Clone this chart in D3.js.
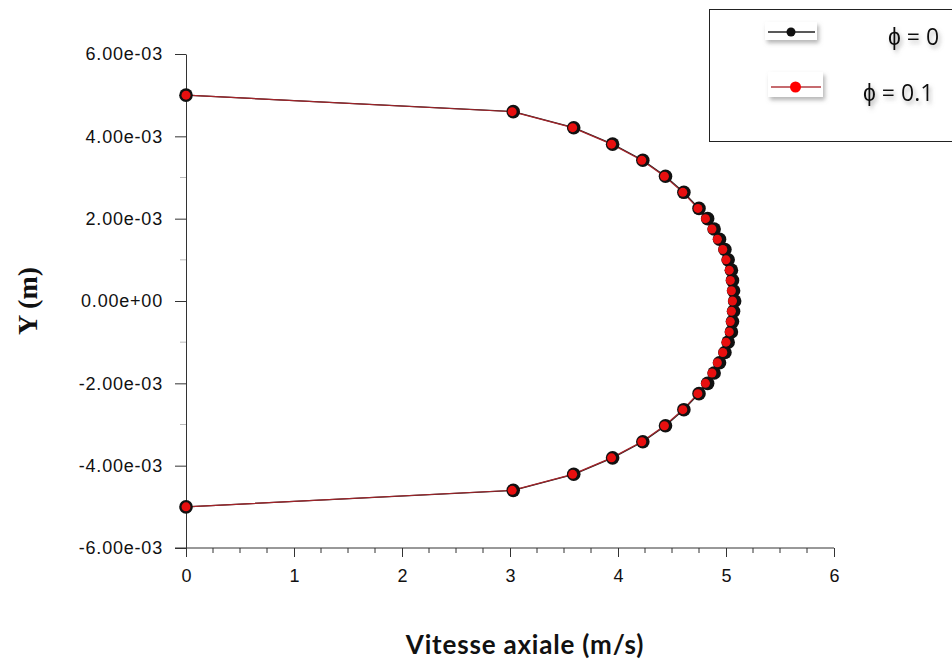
<!DOCTYPE html>
<html>
<head>
  <meta charset="utf-8" />
  <title>Profil de vitesse axiale</title>
  <style type="text/css">
  body {
    margin: 0;
    background: #fff;
  }
  svg text { fill: #111; }
  </style>
</head>
<body>
  <div id="graph"></div>

  <script src="https://cdn.jsdelivr.net/npm/d3@7"></script>
  <script>
// radial positions (in units of 1e-3 m)
var yPos = [5, 4.6, 4.21, 3.81, 3.42, 3.03, 2.64, 2.25, 2.0, 1.75, 1.5, 1.25, 1.0, 0.75, 0.5, 0.25, 0,
            -0.25, -0.5, -0.75, -1.0, -1.25, -1.5, -1.75, -2.0, -2.25, -2.64, -3.03, -3.42, -3.81, -4.21, -4.6, -5];

// axial velocity (m/s), phi = 0
var uPhi0 = [0, 3.03, 3.59, 3.95, 4.23, 4.44, 4.61, 4.75, 4.83, 4.89, 4.94, 4.99, 5.02, 5.05, 5.06, 5.07, 5.08,
             5.07, 5.06, 5.05, 5.02, 4.99, 4.94, 4.89, 4.83, 4.75, 4.61, 4.44, 4.23, 3.95, 3.59, 3.03, 0];

// axial velocity (m/s), phi = 0.1
var uPhi01 = [0, 3.02, 3.58, 3.94, 4.22, 4.43, 4.60, 4.74, 4.81, 4.87, 4.92, 4.97, 5.00, 5.03, 5.04, 5.05, 5.06,
              5.05, 5.04, 5.03, 5.00, 4.97, 4.92, 4.87, 4.81, 4.74, 4.60, 4.43, 4.22, 3.94, 3.58, 3.02, 0];

var xTicks = [0, 1, 2, 3, 4, 5, 6];
var yTicks = [-6e-3, -4e-3, -2e-3, 0, 2e-3, 4e-3, 6e-3];
var legendLabels = ["\u03D5 = 0", "\u03D5 = 0.1"];

var W = 952, H = 662;
var margin = {top: 54, left: 186, right: 118, bottom: 114};

var x = d3.scaleLinear().domain([0, 6]).range([margin.left, W - margin.right]);
var y = d3.scaleLinear().domain([-6e-3, 6e-3]).range([H - margin.bottom, margin.top]);

var svg = d3.select("#graph").append("svg")
    .attr("width", W)
    .attr("height", H);

// soft shadow like the pasted legend pieces
var defs = svg.append("defs");
var f = defs.append("filter").attr("id", "shadow")
    .attr("x", "-30%").attr("y", "-30%").attr("width", "160%").attr("height", "170%");
f.append("feDropShadow")
    .attr("dx", 2).attr("dy", 3).attr("stdDeviation", 2)
    .attr("flood-color", "#777").attr("flood-opacity", 0.55);

// minor ticks
var xMinor = d3.range(0, 6.01, 0.25).filter(function(d) { return d % 1 !== 0; });
var yMinor = [-5e-3, -3e-3, -1e-3, 1e-3, 3e-3, 5e-3];

svg.append("g")
    .attr("transform", "translate(0," + y(-6e-3) + ")")
    .selectAll("line").data(xMinor).enter().append("line")
    .attr("x1", function(d) { return x(d); })
    .attr("x2", function(d) { return x(d); })
    .attr("y1", 0).attr("y2", 5)
    .attr("stroke", "#333");

svg.append("g")
    .selectAll("line").data(yMinor).enter().append("line")
    .attr("x1", x(0) - 6).attr("x2", x(0))
    .attr("y1", function(d) { return y(d); })
    .attr("y2", function(d) { return y(d); })
    .attr("stroke", "#bbb");

// x axis
var xAxis = svg.append("g")
    .attr("transform", "translate(0," + y(-6e-3) + ")")
    .call(d3.axisBottom(x).tickValues(xTicks).tickSize(9).tickPadding(12).tickFormat(d3.format("d")));
xAxis.select(".domain").attr("d", "M" + (x(0) - 11) + ",0H" + x(6)).attr("stroke", "#333");
xAxis.selectAll(".tick line").attr("stroke", "#333");
xAxis.selectAll("text")
    .attr("font-family", "'Liberation Sans', Arial, sans-serif")
    .attr("font-size", 18)
    .attr("fill", "#000");

// y axis, labels like 6.00e-03 with a plain hyphen
var yAxis = svg.append("g")
    .attr("transform", "translate(" + x(0) + ",0)")
    .call(d3.axisLeft(y).tickValues(yTicks).tickSize(11).tickSizeOuter(0).tickPadding(12)
      .tickFormat(function(d) {
        var s = d.toExponential(2);
        return s.replace(/e([+-])(\d)$/, "e$10$2");
      }));
yAxis.select(".domain").attr("stroke", "#333");
yAxis.selectAll(".tick line").attr("stroke", "#333");
yAxis.selectAll("text")
    .attr("font-family", "'Liberation Sans', Arial, sans-serif")
    .attr("font-size", 18)
    .attr("letter-spacing", 0.8)
    .attr("fill", "#000");

// lines
var line0 = d3.line()
    .x(function(d, i) { return x(uPhi0[i]); })
    .y(function(d) { return y(d * 1e-3); });
var line1 = d3.line()
    .x(function(d, i) { return x(uPhi01[i]); })
    .y(function(d) { return y(d * 1e-3); });

svg.append("path").datum(yPos)
    .attr("d", line0)
    .attr("fill", "none")
    .attr("stroke", "#222")
    .attr("stroke-width", 1.2);

svg.append("path").datum(yPos)
    .attr("d", line1)
    .attr("fill", "none")
    .attr("stroke", "#a3242a")
    .attr("stroke-width", 1.2);

// markers
svg.append("g").selectAll("circle").data(yPos).enter().append("circle")
    .attr("cx", function(d, i) { return x(uPhi0[i]); })
    .attr("cy", function(d) { return y(d * 1e-3); })
    .attr("r", 6.8)
    .attr("fill", "#111");

svg.append("g").selectAll("circle").data(yPos).enter().append("circle")
    .attr("cx", function(d, i) { return x(uPhi01[i]); })
    .attr("cy", function(d) { return y(d * 1e-3); })
    .attr("r", 4.5)
    .attr("fill", "#e80f0f");

// axis titles
svg.append("text")
    .attr("transform", "translate(27," + y(0) + ") rotate(-90)")
    .attr("text-anchor", "middle")
    .attr("dominant-baseline", "central")
    .attr("font-family", "'Liberation Serif', 'Times New Roman', serif")
    .attr("font-weight", "bold")
    .attr("font-size", 28)
    .text("Y (m)");

svg.append("text")
    .attr("x", 525)
    .attr("y", 654)
    .attr("text-anchor", "middle")
    .attr("font-family", "Lato, 'Open Sans', sans-serif")
    .attr("font-weight", "bold")
    .attr("font-size", 26)
    .attr("letter-spacing", 0.8)
    .text("Vitesse axiale (m/s)");

// legend
var leg = svg.append("g");
leg.append("rect")
    .attr("x", 709.5).attr("y", 9.5)
    .attr("width", 260).attr("height", 132)
    .attr("fill", "#fff")
    .attr("stroke", "#222");

var legColors = [{line: "#222", dot: "#111", r: 4.5}, {line: "#b33a3f", dot: "#f00", r: 5.5}];
var legRows = [{sx: 765, sy: 22, sw: 52, tx: 888, ty: 36}, {sx: 768, sy: 72, sw: 55, tx: 863, ty: 92}];

legRows.forEach(function(r, i) {
  var g = leg.append("g");
  g.append("rect")
      .attr("x", r.sx).attr("y", r.sy)
      .attr("width", r.sw).attr("height", i === 0 ? 18 : 25)
      .attr("fill", "#fff")
      .attr("filter", "url(#shadow)");
  var cy = r.sy + (i === 0 ? 10 : 15);
  g.append("line")
      .attr("x1", r.sx + 3).attr("x2", r.sx + r.sw - 2)
      .attr("y1", cy).attr("y2", cy)
      .attr("stroke", legColors[i].line)
      .attr("stroke-width", 1.5);
  g.append("circle")
      .attr("cx", r.sx + r.sw / 2).attr("cy", cy)
      .attr("r", legColors[i].r)
      .attr("fill", legColors[i].dot);
  leg.append("text")
      .attr("x", r.tx).attr("y", r.ty)
      .attr("dominant-baseline", "central")
      .attr("font-family", "'Open Sans', sans-serif")
      .attr("font-size", 23)
      .attr("filter", "url(#shadow)")
      .text(legendLabels[i]);
});
  </script>
</body>
</html>
